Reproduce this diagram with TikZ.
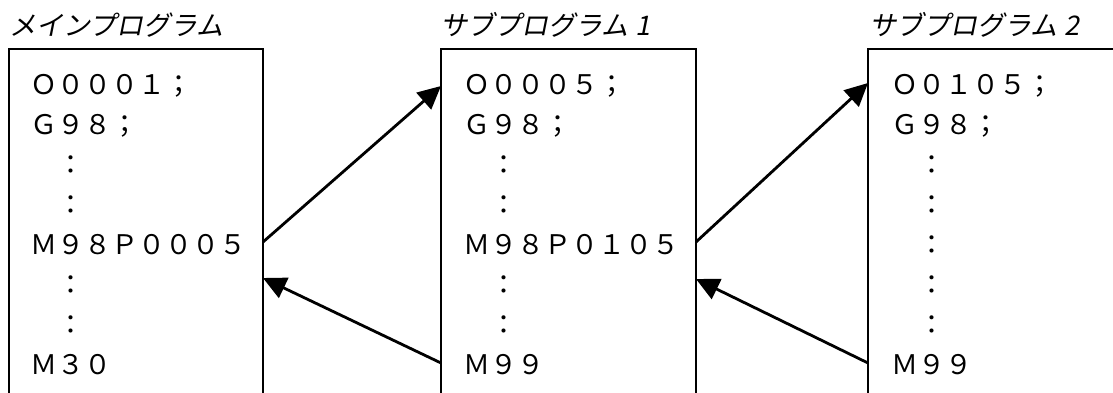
\documentclass[tikz,border=0pt]{standalone}
\usepackage{fontspec}
\newfontfamily\jp{Noto Sans CJK JP}
\newfontfamily\jpit[FakeSlant=0.2]{Noto Sans CJK JP}
\usetikzlibrary{arrows.meta}
\begin{document}
\begin{tikzpicture}[x=1pt,y=-1pt,
  code/.style={anchor=base west, inner sep=0pt, font=\jp\fontsize{27}{27}\selectfont},
  ttl/.style={anchor=base west, inner sep=0pt, font=\jpit\fontsize{27}{27}\selectfont},
  frame/.style={line width=2.8pt},
  conn/.style={line width=2.8pt, -{Triangle[length=23pt,width=22pt]}}]
\useasboundingbox (0,0) rectangle (1113,392);
\clip (0,0) rectangle (1113,392);
% titles
\node[ttl] (t1) at (9,35) {メインプログラム};
\node[ttl] (t2) at (440,35) {サブプログラム\kern7pt 1};
\node[ttl] (t3) at (869,35) {サブプログラム\kern7pt 2};
% frames
\draw[frame] (9,400) -- (9,49) -- (263,49) -- (263,400);
\draw[frame] (441,400) -- (441,49) -- (696,49) -- (696,400);
\draw[frame] (868,400) -- (868,49) -- (1130,49);
% main program
\node[code] (a1) at (30,94)  {Ｏ０００１；};
\node[code] (a2) at (30,134) {Ｇ９８；};
\node[code] (a3) at (30,174) {\hspace*{1em}：};
\node[code] (a4) at (30,214) {\hspace*{1em}：};
\node[code] (a5) at (30,254) {Ｍ９８Ｐ０００５};
\node[code] (a6) at (30,294) {\hspace*{1em}：};
\node[code] (a7) at (30,334) {\hspace*{1em}：};
\node[code] (a8) at (30,374) {Ｍ３０};
% sub program 1
\node[code] (b1) at (463,94)  {Ｏ０００５；};
\node[code] (b2) at (463,134) {Ｇ９８；};
\node[code] (b3) at (463,174) {\hspace*{1em}：};
\node[code] (b4) at (463,214) {\hspace*{1em}：};
\node[code] (b5) at (463,254) {Ｍ９８Ｐ０１０５};
\node[code] (b6) at (463,294) {\hspace*{1em}：};
\node[code] (b7) at (463,334) {\hspace*{1em}：};
\node[code] (b8) at (463,374) {Ｍ９９};
% sub program 2
\node[code] (c1) at (891,94)  {Ｏ０１０５；};
\node[code] (c2) at (891,134) {Ｇ９８；};
\node[code] (c3) at (891,174) {\hspace*{1em}：};
\node[code] (c4) at (891,214) {\hspace*{1em}：};
\node[code] (c5) at (891,254) {\hspace*{1em}：};
\node[code] (c6) at (891,294) {\hspace*{1em}：};
\node[code] (c7) at (891,334) {\hspace*{1em}：};
\node[code] (c8) at (891,374) {Ｍ９９};
% connector ends on the frames
\coordinate (m1out)  at (263,242);
\coordinate (s1in)   at (441,86);
\coordinate (s1ret)  at (441,363);
\coordinate (m1back) at (263,278);
\coordinate (s1out)  at (696,242);
\coordinate (s2in)   at (868,83);
\coordinate (s2ret)  at (868,363);
\coordinate (s1back) at (696,279);
% connectors
\draw[conn] (m1out) -- (s1in);
\draw[conn] (s1ret) -- (m1back);
\draw[conn] (s1out) -- (s2in);
\draw[conn] (s2ret) -- (s1back);
\end{tikzpicture}
\end{document}
